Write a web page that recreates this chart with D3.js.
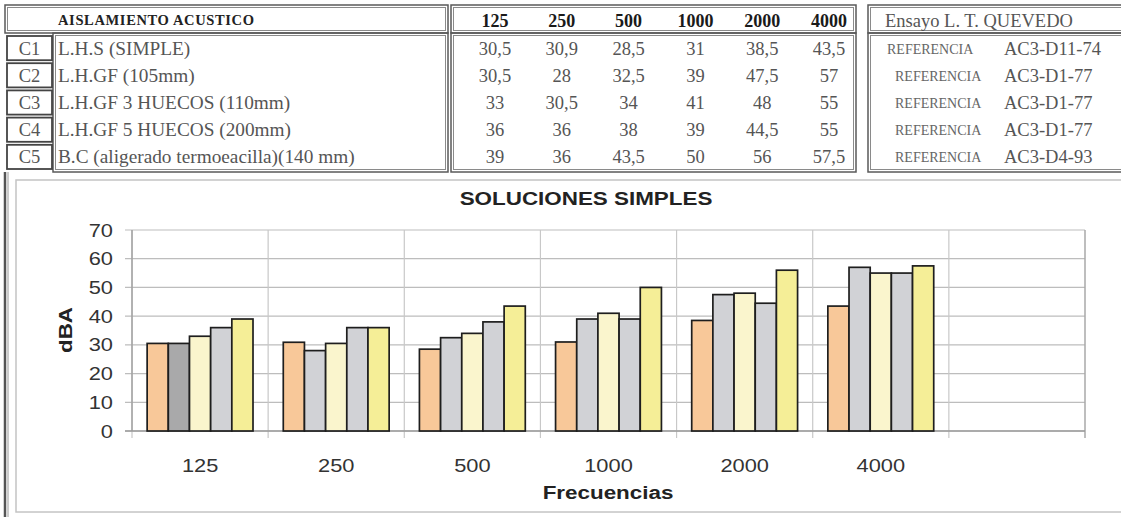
<!DOCTYPE html>
<html>
<head>
<meta charset="utf-8">
<script src="https://cdn.jsdelivr.net/npm/d3@7"></script>
<style>
	body { margin: 0; background: #fff; }
	svg { display: block; }
	.serif { font-family: "Liberation Serif", "DejaVu Serif", serif; }
	.sans { font-family: "Liberation Sans", Arial, sans-serif; }
</style>
</head>
<body>
<svg id="chart" width="1121" height="517"></svg>
<script>
// data
let frequencies = ["125", "250", "500", "1000", "2000", "4000"];
let codes = ["C1", "C2", "C3", "C4", "C5"];
let names = [
	"L.H.S (SIMPLE)",
	"L.H.GF (105mm)",
	"L.H.GF 3 HUECOS (110mm)",
	"L.H.GF 5 HUECOS (200mm)",
	"B.C (aligerado termoeacilla)(140 mm)"
];
let refs = ["AC3-D11-74", "AC3-D1-77", "AC3-D1-77", "AC3-D1-77", "AC3-D4-93"];
let c1 = [30.5, 30.9, 28.5, 31, 38.5, 43.5];
let c2 = [30.5, 28, 32.5, 39, 47.5, 57];
let c3 = [33, 30.5, 34, 41, 48, 55];
let c4 = [36, 36, 38, 39, 44.5, 55];
let c5 = [39, 36, 43.5, 50, 56, 57.5];
let series = [c1, c2, c3, c4, c5];
let yTicks = [0, 10, 20, 30, 40, 50, 60, 70];

let colours = ["#f8c899", "#d1d2d6", "#faf5cd", "#d1d2d6", "#f5ee97"];
// one point recoloured in the original (C2 at 125)
let pointColour = {"C2-125": "#a9a9aa"};

let svg = d3.select("#chart");
let fmt = v => String(v).replace(".", ",");
// the scanned chart text runs a bit wider than Arial
let stretch = 1.18;

function doubleBox(g, x, y, w, h){
	g.append("rect").attr("x", x).attr("y", y).attr("width", w).attr("height", h)
		.attr("fill", "none").attr("stroke", "#5a5a5a").attr("stroke-width", 1.5);
	g.append("rect").attr("x", x + 2.5).attr("y", y + 2.5).attr("width", w - 5).attr("height", h - 5)
		.attr("fill", "none").attr("stroke", "#8a8a8a").attr("stroke-width", 1);
}

function place(x, y){
	return "translate(" + x + "," + y + ") scale(" + stretch + ",1)";
}

// ---------- table ----------
let table = svg.append("g").attr("class", "table serif");

doubleBox(table, 5, 5, 443, 28);
doubleBox(table, 451, 5, 405, 28);
doubleBox(table, 868, 5, 260, 28);
doubleBox(table, 53, 33, 395, 139);
doubleBox(table, 451, 33, 405, 139);
doubleBox(table, 868, 33, 260, 139);

table.append("text")
	.attr("x", 58).attr("y", 25)
	.attr("font-size", 14.5).attr("font-weight", "bold").attr("fill", "#222")
	.attr("textLength", 196)
	.text("AISLAMIENTO ACUSTICO");

let colX = d3.scalePoint().domain(frequencies).range([495, 829]);
let rowY = d3.scaleBand().domain(codes).range([34.5, 170.5]);

table.selectAll("text.freqHead")
	.data(frequencies)
	.join("text")
	.attr("class", "freqHead")
	.attr("x", d => colX(d))
	.attr("y", 27)
	.attr("text-anchor", "middle")
	.attr("font-size", 18).attr("font-weight", "bold").attr("fill", "#1a1a1a")
	.text(d => d);

table.append("text")
	.attr("x", 885).attr("y", 27)
	.attr("font-size", 18.5).attr("fill", "#555")
	.text("Ensayo L. T. QUEVEDO");

let rows = table.selectAll("g.row")
	.data(codes)
	.join("g")
	.attr("class", "row")
	.attr("transform", d => "translate(0," + rowY(d) + ")");

rows.append("rect")
	.attr("x", 7).attr("y", 1.5)
	.attr("width", 45).attr("height", rowY.bandwidth() - 3)
	.attr("fill", "none").attr("stroke", "#444").attr("stroke-width", 1.8);

rows.append("text")
	.attr("x", 29.5).attr("y", rowY.bandwidth() / 2 + 6.5)
	.attr("text-anchor", "middle")
	.attr("font-size", 18.5).attr("fill", "#555")
	.text(d => d);

rows.append("text")
	.attr("x", 58).attr("y", rowY.bandwidth() / 2 + 6.5)
	.attr("font-size", 19.3).attr("fill", "#555")
	.text((d, i) => names[i]);

rows.selectAll("text.val")
	.data((d, i) => series[i].map((v, j) => ({v: v, f: frequencies[j]})))
	.join("text")
	.attr("class", "val")
	.attr("x", d => colX(d.f))
	.attr("y", rowY.bandwidth() / 2 + 6.5)
	.attr("text-anchor", "middle")
	.attr("font-size", 18.5).attr("fill", "#555")
	.text(d => fmt(d.v));

rows.append("text")
	.attr("x", (d, i) => i === 0 ? 887 : 895)
	.attr("y", rowY.bandwidth() / 2 + 5.5)
	.attr("font-size", 14).attr("fill", "#666")
	.text("REFERENCIA");

rows.append("text")
	.attr("x", 1004)
	.attr("y", rowY.bandwidth() / 2 + 6.5)
	.attr("font-size", 18.5).attr("fill", "#555")
	.text((d, i) => refs[i]);

// ---------- chart panel ----------
let panel = svg.append("g").attr("class", "panel");
panel.append("line").attr("x1", 5).attr("x2", 5).attr("y1", 172).attr("y2", 517)
	.attr("stroke", "#555").attr("stroke-width", 2.5);
panel.append("line").attr("x1", 8).attr("x2", 8).attr("y1", 172).attr("y2", 517)
	.attr("stroke", "#999").attr("stroke-width", 1);
panel.append("rect").attr("x", 16).attr("y", 180).attr("width", 1120).attr("height", 332)
	.attr("fill", "none").attr("stroke", "#c4c4c4").attr("stroke-width", 1.5);

let plot = {left: 132, right: 1085, top: 230, bottom: 431};

let x0 = d3.scaleBand()
	.domain(frequencies.concat([""]))
	.range([plot.left, plot.right]);

let x1 = d3.scaleBand()
	.domain(codes)
	.range([0, x0.bandwidth()])
	.paddingOuter(0.715);

let y = d3.scaleLinear().domain([0, 70]).range([plot.bottom, plot.top]);

let chart = svg.append("g").attr("class", "chart sans");

// horizontal grid
chart.selectAll("line.hgrid")
	.data(yTicks)
	.join("line")
	.attr("class", "hgrid")
	.attr("x1", plot.left - 7).attr("x2", plot.right)
	.attr("y1", d => y(d)).attr("y2", d => y(d))
	.attr("stroke", "#bdbdbd").attr("stroke-width", 1.2);

// vertical grid at category boundaries
chart.selectAll("line.vgrid")
	.data(x0.domain())
	.join("line")
	.attr("class", "vgrid")
	.attr("x1", d => x0(d)).attr("x2", d => x0(d))
	.attr("y1", plot.top).attr("y2", plot.bottom + 7)
	.attr("stroke", "#c8c8c8").attr("stroke-width", 1.2);

// plot frame
chart.append("line").attr("x1", plot.left).attr("x2", plot.left)
	.attr("y1", plot.top).attr("y2", plot.bottom).attr("stroke", "#9a9a9a").attr("stroke-width", 1.3);
chart.append("line").attr("x1", plot.right).attr("x2", plot.right)
	.attr("y1", plot.top).attr("y2", plot.bottom + 7).attr("stroke", "#a8a8a8").attr("stroke-width", 1.5);
chart.append("line").attr("x1", plot.left - 7).attr("x2", plot.right)
	.attr("y1", plot.bottom).attr("y2", plot.bottom).attr("stroke", "#9a9a9a").attr("stroke-width", 1.3);

// bars
let groups = chart.selectAll("g.freq")
	.data(frequencies)
	.join("g")
	.attr("class", "freq")
	.attr("freq", d => d)
	.attr("transform", d => "translate(" + x0(d) + ",0)");

groups.selectAll("rect")
	.data((f, j) => codes.map((c, i) => ({code: c, freq: f, value: series[i][j], idx: i})))
	.join("rect")
	.attr("x", d => x1(d.code))
	.attr("y", d => y(d.value))
	.attr("width", x1.bandwidth())
	.attr("height", d => y(0) - y(d.value))
	.attr("fill", d => pointColour[d.code + "-" + d.freq] || colours[d.idx])
	.attr("stroke", "#1e1e1e")
	.attr("stroke-width", 1.7);

// y tick labels
chart.selectAll("text.ytick")
	.data(yTicks)
	.join("text")
	.attr("class", "ytick")
	.attr("transform", d => place(113, y(d) + 6.5))
	.attr("text-anchor", "end")
	.attr("font-size", 18.5).attr("fill", "#333")
	.text(d => d);

// x tick labels
chart.selectAll("text.xtick")
	.data(frequencies)
	.join("text")
	.attr("class", "xtick")
	.attr("transform", d => place(x0(d) + x0.bandwidth() / 2, 472))
	.attr("text-anchor", "middle")
	.attr("font-size", 18.5).attr("fill", "#333")
	.text(d => d);

chart.append("text")
	.attr("transform", place(586, 205))
	.attr("text-anchor", "middle")
	.attr("font-size", 19).attr("font-weight", "bold").attr("fill", "#222")
	.text("SOLUCIONES SIMPLES");

chart.append("text")
	.attr("transform", "translate(72,330) rotate(-90) scale(" + stretch + ",1)")
	.attr("text-anchor", "middle")
	.attr("font-size", 19).attr("font-weight", "bold").attr("fill", "#222")
	.text("dBA");

chart.append("text")
	.attr("transform", place(608, 499))
	.attr("text-anchor", "middle")
	.attr("font-size", 19).attr("font-weight", "bold").attr("fill", "#222")
	.text("Frecuencias");
</script>
</body>
</html>
